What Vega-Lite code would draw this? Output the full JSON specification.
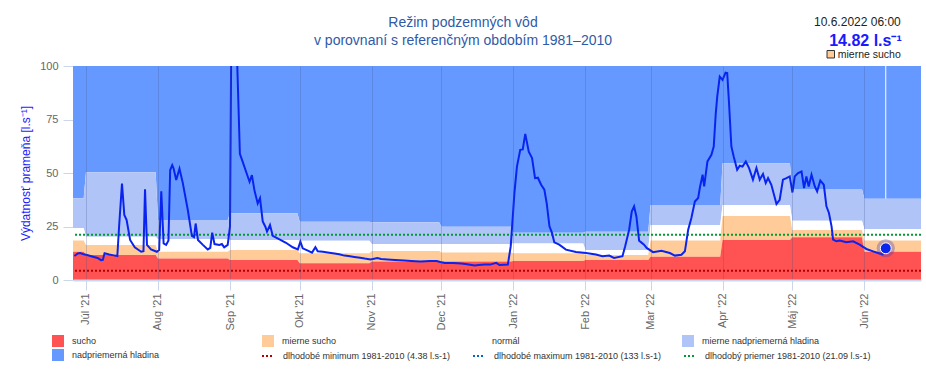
{
  "$schema": "https://vega.github.io/schema/vega-lite/v6.json",
  "width": 848,
  "height": 214,
  "autosize": {"type": "none"},
  "padding": {"left": 73, "top": 66, "right": 5, "bottom": 106},
  "background": "white",
  "config": {"view": {"stroke": null}, "font": "Liberation Sans"},
  "title": {
    "text": ["Režim podzemných vôd", "v porovnaní s referenčným obdobím 1981–2010"],
    "anchor": "middle", "frame": "group", "dx": -34, "dy": 50, "offset": 18,
    "font": "Liberation Sans", "fontSize": 14, "fontWeight": "normal",
    "color": "#2f5aa8", "lineHeight": 18
  },
  "datasets": {
    "bands": [
      {"date": "2021-06-15", "s": 13.2, "m": 18.4, "n": 24.3, "a": 38.2},
      {"date": "2021-06-30", "s": 13.2, "m": 18.4, "n": 24.3, "a": 38.2},
      {"date": "2021-07-01", "s": 11.7, "m": 16.4, "n": 20.2, "a": 50.3},
      {"date": "2021-07-31", "s": 11.7, "m": 16.4, "n": 20.2, "a": 50.3},
      {"date": "2021-08-01", "s": 10.1, "m": 13.2, "n": 19.0, "a": 28.0},
      {"date": "2021-08-31", "s": 10.1, "m": 13.2, "n": 19.0, "a": 28.0},
      {"date": "2021-09-01", "s": 9.3, "m": 14.0, "n": 18.7, "a": 31.2},
      {"date": "2021-09-30", "s": 9.3, "m": 14.0, "n": 18.7, "a": 31.2},
      {"date": "2021-10-01", "s": 7.8, "m": 12.5, "n": 18.3, "a": 27.2},
      {"date": "2021-10-31", "s": 7.8, "m": 12.5, "n": 18.3, "a": 27.2},
      {"date": "2021-11-01", "s": 8.6, "m": 13.6, "n": 16.8, "a": 27.0},
      {"date": "2021-11-30", "s": 8.6, "m": 13.6, "n": 16.8, "a": 27.0},
      {"date": "2021-12-01", "s": 8.6, "m": 12.8, "n": 16.8, "a": 24.9},
      {"date": "2021-12-31", "s": 8.6, "m": 12.8, "n": 16.8, "a": 24.9},
      {"date": "2022-01-01", "s": 8.9, "m": 12.5, "n": 17.1, "a": 22.1},
      {"date": "2022-01-31", "s": 8.9, "m": 12.5, "n": 17.1, "a": 22.1},
      {"date": "2022-02-01", "s": 9.3, "m": 11.7, "n": 14.0, "a": 22.6},
      {"date": "2022-02-28", "s": 9.3, "m": 11.7, "n": 14.0, "a": 22.6},
      {"date": "2022-03-01", "s": 10.9, "m": 18.4, "n": 25.7, "a": 35.0},
      {"date": "2022-03-31", "s": 10.9, "m": 18.4, "n": 25.7, "a": 35.0},
      {"date": "2022-04-01", "s": 18.7, "m": 29.9, "n": 35.0, "a": 54.5},
      {"date": "2022-04-30", "s": 18.7, "m": 29.9, "n": 35.0, "a": 54.5},
      {"date": "2022-05-01", "s": 20.0, "m": 23.4, "n": 27.7, "a": 42.5},
      {"date": "2022-05-31", "s": 20.0, "m": 23.4, "n": 27.7, "a": 42.5},
      {"date": "2022-06-01", "s": 13.2, "m": 18.4, "n": 23.8, "a": 38.0},
      {"date": "2022-06-30", "s": 13.2, "m": 18.4, "n": 23.8, "a": 38.0}
    ],
    "refs": [
      {"name": "dlhodobé minimum 1981-2010 (4.38 l.s-1)", "value": 4.38},
      {"name": "dlhodobé maximum 1981-2010 (133 l.s-1)", "value": 133},
      {"name": "dlhodobý priemer 1981-2010 (21.09 l.s-1)", "value": 21.09}
    ],
    "now": [
      {"date": "2022-06-10T06:00Z", "value": 14.82, "stamp": "10.6.2022 06:00", "label": "14.82 l.s⁻¹", "category": "mierne sucho"}
    ],
    "flow": [
      {"date": "2021-06-26T00:00Z", "value": 11.2},
      {"date": "2021-06-27T12:00Z", "value": 12.4},
      {"date": "2021-06-28T12:00Z", "value": 12.6},
      {"date": "2021-06-30T00:00Z", "value": 12.0},
      {"date": "2021-07-01T12:00Z", "value": 11.7},
      {"date": "2021-07-04T00:00Z", "value": 10.9},
      {"date": "2021-07-06T00:00Z", "value": 10.3},
      {"date": "2021-07-07T12:00Z", "value": 9.3},
      {"date": "2021-07-08T06:00Z", "value": 9.4},
      {"date": "2021-07-09T00:00Z", "value": 12.5},
      {"date": "2021-07-11T00:00Z", "value": 11.9},
      {"date": "2021-07-13T00:00Z", "value": 11.5},
      {"date": "2021-07-14T12:00Z", "value": 11.2},
      {"date": "2021-07-15T06:00Z", "value": 24.9},
      {"date": "2021-07-16T12:00Z", "value": 45.1},
      {"date": "2021-07-17T12:00Z", "value": 30.4},
      {"date": "2021-07-18T12:00Z", "value": 28.0},
      {"date": "2021-07-20T00:00Z", "value": 18.7},
      {"date": "2021-07-22T00:00Z", "value": 15.3},
      {"date": "2021-07-24T18:00Z", "value": 13.2},
      {"date": "2021-07-25T18:00Z", "value": 13.5},
      {"date": "2021-07-26T10:00Z", "value": 42.4},
      {"date": "2021-07-27T06:00Z", "value": 16.4},
      {"date": "2021-07-29T00:00Z", "value": 14.3},
      {"date": "2021-07-31T12:00Z", "value": 13.2},
      {"date": "2021-08-01T12:00Z", "value": 14.0},
      {"date": "2021-08-02T10:00Z", "value": 41.5},
      {"date": "2021-08-03T10:00Z", "value": 17.1},
      {"date": "2021-08-04T12:00Z", "value": 16.4},
      {"date": "2021-08-05T12:00Z", "value": 18.5},
      {"date": "2021-08-06T06:00Z", "value": 51.4},
      {"date": "2021-08-07T03:00Z", "value": 53.7},
      {"date": "2021-08-07T18:00Z", "value": 52.0},
      {"date": "2021-08-08T20:00Z", "value": 46.7},
      {"date": "2021-08-10T06:00Z", "value": 52.0},
      {"date": "2021-08-11T16:00Z", "value": 45.4},
      {"date": "2021-08-13T20:00Z", "value": 32.7},
      {"date": "2021-08-15T14:00Z", "value": 20.6},
      {"date": "2021-08-16T12:00Z", "value": 20.0},
      {"date": "2021-08-17T05:00Z", "value": 26.4},
      {"date": "2021-08-18T05:00Z", "value": 18.7},
      {"date": "2021-08-20T08:00Z", "value": 16.4},
      {"date": "2021-08-22T10:00Z", "value": 14.3},
      {"date": "2021-08-23T12:00Z", "value": 15.0},
      {"date": "2021-08-24T08:00Z", "value": 22.1},
      {"date": "2021-08-25T08:00Z", "value": 16.8},
      {"date": "2021-08-27T10:00Z", "value": 16.4},
      {"date": "2021-08-28T12:00Z", "value": 16.8},
      {"date": "2021-08-29T12:00Z", "value": 15.3},
      {"date": "2021-08-31T00:00Z", "value": 16.4},
      {"date": "2021-09-01T00:00Z", "value": 25},
      {"date": "2021-09-01T14:00Z", "value": 120},
      {"date": "2021-09-03T00:00Z", "value": 140},
      {"date": "2021-09-04T00:00Z", "value": 105},
      {"date": "2021-09-05T06:00Z", "value": 59},
      {"date": "2021-09-06T05:00Z", "value": 56},
      {"date": "2021-09-07T22:00Z", "value": 50.6},
      {"date": "2021-09-09T10:00Z", "value": 45.9},
      {"date": "2021-09-10T10:00Z", "value": 49},
      {"date": "2021-09-11T12:00Z", "value": 42},
      {"date": "2021-09-12T22:00Z", "value": 35.8},
      {"date": "2021-09-13T22:00Z", "value": 38.2},
      {"date": "2021-09-15T02:00Z", "value": 27.3},
      {"date": "2021-09-16T05:00Z", "value": 24.9},
      {"date": "2021-09-16T22:00Z", "value": 22.6},
      {"date": "2021-09-18T05:00Z", "value": 25.7},
      {"date": "2021-09-19T10:00Z", "value": 20.6},
      {"date": "2021-09-22T07:00Z", "value": 19.0},
      {"date": "2021-09-25T02:00Z", "value": 17.4},
      {"date": "2021-09-28T00:00Z", "value": 15.3},
      {"date": "2021-09-30T05:00Z", "value": 14.3},
      {"date": "2021-10-01T07:00Z", "value": 17.9},
      {"date": "2021-10-02T07:00Z", "value": 14.8},
      {"date": "2021-10-04T12:00Z", "value": 13.7},
      {"date": "2021-10-06T07:00Z", "value": 12.8},
      {"date": "2021-10-07T18:00Z", "value": 15.3},
      {"date": "2021-10-08T18:00Z", "value": 13.4},
      {"date": "2021-10-11T00:00Z", "value": 13.2},
      {"date": "2021-10-13T00:00Z", "value": 12.9},
      {"date": "2021-10-16T00:00Z", "value": 12.4},
      {"date": "2021-10-18T00:00Z", "value": 12.0},
      {"date": "2021-10-20T06:00Z", "value": 11.4},
      {"date": "2021-10-22T00:00Z", "value": 11.2},
      {"date": "2021-10-24T12:00Z", "value": 10.8},
      {"date": "2021-10-27T00:00Z", "value": 10.4},
      {"date": "2021-10-29T00:00Z", "value": 10.0},
      {"date": "2021-10-31T12:00Z", "value": 9.6},
      {"date": "2021-11-03T10:00Z", "value": 10.3},
      {"date": "2021-11-05T00:00Z", "value": 9.8},
      {"date": "2021-11-07T18:00Z", "value": 9.6},
      {"date": "2021-11-11T00:00Z", "value": 9.4},
      {"date": "2021-11-15T00:00Z", "value": 9.1},
      {"date": "2021-11-18T00:00Z", "value": 8.9},
      {"date": "2021-11-22T00:00Z", "value": 8.6},
      {"date": "2021-11-26T00:00Z", "value": 8.9},
      {"date": "2021-11-29T00:00Z", "value": 8.9},
      {"date": "2021-11-30T12:00Z", "value": 8.4},
      {"date": "2021-12-02T10:00Z", "value": 8.0},
      {"date": "2021-12-06T00:00Z", "value": 7.9},
      {"date": "2021-12-09T14:00Z", "value": 7.7},
      {"date": "2021-12-12T00:00Z", "value": 7.4},
      {"date": "2021-12-15T08:00Z", "value": 6.8},
      {"date": "2021-12-17T00:00Z", "value": 7.0},
      {"date": "2021-12-19T14:00Z", "value": 7.2},
      {"date": "2021-12-22T00:00Z", "value": 7.2},
      {"date": "2021-12-24T14:00Z", "value": 8.0},
      {"date": "2021-12-26T00:00Z", "value": 7.0},
      {"date": "2021-12-29T14:00Z", "value": 7.2},
      {"date": "2021-12-30T20:00Z", "value": 15.8},
      {"date": "2022-01-01T10:00Z", "value": 40.7},
      {"date": "2022-01-02T12:00Z", "value": 53},
      {"date": "2022-01-03T22:00Z", "value": 60.8},
      {"date": "2022-01-05T00:00Z", "value": 61},
      {"date": "2022-01-06T02:00Z", "value": 68.3},
      {"date": "2022-01-07T14:00Z", "value": 60},
      {"date": "2022-01-09T00:00Z", "value": 57},
      {"date": "2022-01-10T07:00Z", "value": 47.6},
      {"date": "2022-01-11T12:00Z", "value": 47.8},
      {"date": "2022-01-12T22:00Z", "value": 44.5},
      {"date": "2022-01-14T07:00Z", "value": 42.2},
      {"date": "2022-01-15T07:00Z", "value": 36},
      {"date": "2022-01-16T12:00Z", "value": 25.1},
      {"date": "2022-01-17T14:00Z", "value": 22},
      {"date": "2022-01-18T14:00Z", "value": 17.6},
      {"date": "2022-01-20T17:00Z", "value": 16.5},
      {"date": "2022-01-23T14:00Z", "value": 14.2},
      {"date": "2022-01-27T22:00Z", "value": 13.1},
      {"date": "2022-02-01T05:00Z", "value": 12.6},
      {"date": "2022-02-05T12:00Z", "value": 11.9},
      {"date": "2022-02-08T07:00Z", "value": 11.1},
      {"date": "2022-02-11T05:00Z", "value": 11.4},
      {"date": "2022-02-13T07:00Z", "value": 10.3},
      {"date": "2022-02-16T22:00Z", "value": 11.1},
      {"date": "2022-02-18T02:00Z", "value": 15.8},
      {"date": "2022-02-19T19:00Z", "value": 23.5},
      {"date": "2022-02-20T22:00Z", "value": 32},
      {"date": "2022-02-21T22:00Z", "value": 34.4},
      {"date": "2022-02-22T22:00Z", "value": 29.7},
      {"date": "2022-02-24T02:00Z", "value": 18.4},
      {"date": "2022-02-26T05:00Z", "value": 16.5},
      {"date": "2022-02-27T08:00Z", "value": 15},
      {"date": "2022-03-02T02:00Z", "value": 13},
      {"date": "2022-03-05T17:00Z", "value": 13.7},
      {"date": "2022-03-09T07:00Z", "value": 12.6},
      {"date": "2022-03-11T12:00Z", "value": 11.4},
      {"date": "2022-03-14T07:00Z", "value": 11.8},
      {"date": "2022-03-15T19:00Z", "value": 13.4},
      {"date": "2022-03-17T05:00Z", "value": 23.5},
      {"date": "2022-03-18T14:00Z", "value": 29},
      {"date": "2022-03-20T02:00Z", "value": 36.7},
      {"date": "2022-03-21T12:00Z", "value": 38.3},
      {"date": "2022-03-22T05:00Z", "value": 43},
      {"date": "2022-03-23T10:00Z", "value": 49.2},
      {"date": "2022-03-24T02:00Z", "value": 43.7},
      {"date": "2022-03-25T12:00Z", "value": 55.4},
      {"date": "2022-03-27T05:00Z", "value": 58.5},
      {"date": "2022-03-28T05:00Z", "value": 62.4},
      {"date": "2022-03-29T02:00Z", "value": 77.9},
      {"date": "2022-03-29T17:00Z", "value": 85.7},
      {"date": "2022-03-30T19:00Z", "value": 95},
      {"date": "2022-04-01T00:00Z", "value": 93.5},
      {"date": "2022-04-02T07:00Z", "value": 96.9},
      {"date": "2022-04-03T00:00Z", "value": 96.7},
      {"date": "2022-04-03T19:00Z", "value": 82.6},
      {"date": "2022-04-04T19:00Z", "value": 62.4},
      {"date": "2022-04-05T19:00Z", "value": 57.7},
      {"date": "2022-04-07T07:00Z", "value": 51.5},
      {"date": "2022-04-08T10:00Z", "value": 53.4},
      {"date": "2022-04-09T14:00Z", "value": 53},
      {"date": "2022-04-11T00:00Z", "value": 55.4},
      {"date": "2022-04-12T10:00Z", "value": 52.3},
      {"date": "2022-04-14T02:00Z", "value": 46.9},
      {"date": "2022-04-15T14:00Z", "value": 52.3},
      {"date": "2022-04-17T00:00Z", "value": 46.9},
      {"date": "2022-04-18T10:00Z", "value": 49.5},
      {"date": "2022-04-19T14:00Z", "value": 45.3},
      {"date": "2022-04-20T14:00Z", "value": 47.6},
      {"date": "2022-04-22T00:00Z", "value": 44.5},
      {"date": "2022-04-24T05:00Z", "value": 35.5},
      {"date": "2022-04-25T14:00Z", "value": 37.5},
      {"date": "2022-04-27T00:00Z", "value": 46.9},
      {"date": "2022-04-28T12:00Z", "value": 47.6},
      {"date": "2022-04-29T22:00Z", "value": 48.4},
      {"date": "2022-05-01T02:00Z", "value": 40.9},
      {"date": "2022-05-02T02:00Z", "value": 48.4},
      {"date": "2022-05-03T12:00Z", "value": 50},
      {"date": "2022-05-05T00:00Z", "value": 50.7},
      {"date": "2022-05-06T02:00Z", "value": 43},
      {"date": "2022-05-07T02:00Z", "value": 48.4},
      {"date": "2022-05-08T02:00Z", "value": 43.7},
      {"date": "2022-05-09T07:00Z", "value": 49.2},
      {"date": "2022-05-10T17:00Z", "value": 43.7},
      {"date": "2022-05-11T17:00Z", "value": 41.4},
      {"date": "2022-05-13T02:00Z", "value": 46.5},
      {"date": "2022-05-14T14:00Z", "value": 44.5},
      {"date": "2022-05-15T17:00Z", "value": 34.4},
      {"date": "2022-05-16T19:00Z", "value": 31.3},
      {"date": "2022-05-17T22:00Z", "value": 25.1},
      {"date": "2022-05-18T14:00Z", "value": 18.9},
      {"date": "2022-05-20T00:00Z", "value": 18.1},
      {"date": "2022-05-21T10:00Z", "value": 18.4},
      {"date": "2022-05-24T07:00Z", "value": 17.6},
      {"date": "2022-05-27T05:00Z", "value": 18.1},
      {"date": "2022-05-30T00:00Z", "value": 16.5},
      {"date": "2022-06-01T22:00Z", "value": 14.5},
      {"date": "2022-06-04T19:00Z", "value": 13.4},
      {"date": "2022-06-07T14:00Z", "value": 12.4},
      {"date": "2022-06-09T07:00Z", "value": 11.8}
    ]
  },
  "layer": [
    {
      "data": {"name": "bands"},
      "mark": {"type": "area", "clip": true, "opacity": 1},
      "encoding": {
        "x": {
          "field": "date", "type": "temporal",
          "scale": {"type": "utc", "domain": [{"year": 2021, "month": 6, "date": 25, "hours": 10, "utc": true}, {"year": 2022, "month": 6, "date": 25, "hours": 10, "utc": true}]},
          "axis": {
            "title": null,
            "tickCount": {"interval": "month", "step": 1},
            "labelExpr": "['Jan','Feb','Mar','Apr','Máj','Jún','Júl','Aug','Sep','Okt','Nov','Dec'][utcmonth(datum.value)] + \" '\" + utcFormat(datum.value, '%y')",
            "labelAngle": 270, "labelAlign": "right", "labelBaseline": "middle",
            "labelFontSize": 11, "labelColor": "#666666", "labelPadding": 3,
            "labelFlush": false, "labelOverlap": false,
            "tickSize": 10, "tickColor": "#ccd6eb",
            "domainColor": "#ccd6eb", "domainWidth": 2,
            "grid": true, "gridColor": "#3c508c", "gridOpacity": 0.25,
            "zindex": 1
          }
        },
        "y": {
          "field": "a", "type": "quantitative",
          "scale": {"domain": [0, 100], "nice": false},
          "axis": {
            "title": "Výdatnosť prameňa [l.s⁻¹]",
            "titleColor": "#1a1aff", "titleFontSize": 12, "titleFontWeight": "normal", "titlePadding": 7,
            "values": [0, 25, 50, 75, 100],
            "labelFontSize": 11, "labelColor": "#666666", "labelPadding": 5,
            "tickSize": 10, "tickColor": "#ccd6eb", "domain": false, "grid": false
          }
        },
        "y2": {"datum": 100},
        "color": {
          "datum": "nadpriemerná hladina",
          "scale": {
            "domain": ["sucho", "mierne sucho", "normál", "mierne nadpriemerná hladina", "nadpriemerná hladina"],
            "range": ["#ff5252", "#ffcc99", "#ffffff", "#b0c4f8", "#6699ff"]
          },
          "legend": {
            "title": null, "orient": "none", "legendX": -21, "legendY": 269,
            "columns": 4, "direction": "horizontal", "gridAlign": "all",
            "columnPadding": 72, "rowPadding": 2, "padding": 0,
            "symbolType": "square", "symbolSize": 144, "symbolStrokeWidth": 0, "symbolOpacity": 1,
            "labelFont": "Liberation Sans", "labelFontSize": 9, "labelColor": "#333333",
            "labelOffset": 8, "labelLimit": 300
          }
        }
      }
    },
    {
      "data": {"name": "bands"},
      "mark": {"type": "area", "clip": true, "opacity": 1},
      "encoding": {
        "x": {"field": "date", "type": "temporal"},
        "y": {"field": "n", "type": "quantitative"},
        "y2": {"field": "a"},
        "color": {"datum": "mierne nadpriemerná hladina"}
      }
    },
    {
      "data": {"name": "bands"},
      "mark": {"type": "area", "clip": true, "opacity": 1},
      "encoding": {
        "x": {"field": "date", "type": "temporal"},
        "y": {"field": "m", "type": "quantitative"},
        "y2": {"field": "n"},
        "color": {"datum": "normál"}
      }
    },
    {
      "data": {"name": "bands"},
      "mark": {"type": "area", "clip": true, "opacity": 1},
      "encoding": {
        "x": {"field": "date", "type": "temporal"},
        "y": {"field": "s", "type": "quantitative"},
        "y2": {"field": "m"},
        "color": {"datum": "mierne sucho"}
      }
    },
    {
      "data": {"name": "bands"},
      "mark": {"type": "area", "clip": true, "opacity": 1},
      "encoding": {
        "x": {"field": "date", "type": "temporal"},
        "y": {"field": "s", "type": "quantitative"},
        "y2": {"datum": 0},
        "color": {"datum": "sucho"}
      }
    },
    {
      "data": {"name": "now"},
      "mark": {"type": "rule", "color": "white", "strokeWidth": 1, "clip": true},
      "encoding": {
        "x": {"field": "date", "type": "temporal"},
        "y": {"datum": 38},
        "y2": {"datum": 100}
      }
    },
    {
      "data": {"name": "refs"},
      "mark": {"type": "rule", "strokeDash": [2, 2], "strokeWidth": 2, "clip": true},
      "encoding": {
        "y": {"field": "value", "type": "quantitative"},
        "stroke": {
          "field": "name", "type": "nominal",
          "scale": {
            "domain": ["dlhodobé minimum 1981-2010 (4.38 l.s-1)", "dlhodobé maximum 1981-2010 (133 l.s-1)", "dlhodobý priemer 1981-2010 (21.09 l.s-1)"],
            "range": ["#b30000", "#0066cc", "#009933"]
          },
          "legend": {
            "title": null, "orient": "none", "legendX": 188, "legendY": 283,
            "columns": 3, "direction": "horizontal", "gridAlign": "all",
            "columnPadding": 18, "rowPadding": 2, "padding": 0,
            "symbolType": "stroke", "symbolSize": 144, "symbolStrokeWidth": 2, "symbolDash": [2, 2],
            "labelFont": "Liberation Sans", "labelFontSize": 9, "labelColor": "#333333",
            "labelOffset": 8, "labelLimit": 300
          }
        }
      }
    },
    {
      "data": {"name": "flow"},
      "mark": {"type": "line", "color": "#0a24f0", "strokeWidth": 2, "clip": true},
      "encoding": {
        "x": {"field": "date", "type": "temporal"},
        "y": {"field": "value", "type": "quantitative"}
      }
    },
    {
      "data": {"name": "now"},
      "mark": {"type": "point", "filled": true, "color": "#4a3fb0", "opacity": 0.35, "size": 330},
      "encoding": {
        "x": {"field": "date", "type": "temporal"},
        "y": {"field": "value", "type": "quantitative"}
      }
    },
    {
      "data": {"name": "now"},
      "mark": {"type": "point", "filled": true, "color": "#0a24f0", "stroke": "white", "strokeWidth": 1, "opacity": 1, "size": 120},
      "encoding": {
        "x": {"field": "date", "type": "temporal"},
        "y": {"field": "value", "type": "quantitative"}
      }
    },
    {
      "data": {"name": "now"},
      "mark": {"type": "text", "align": "right", "baseline": "middle", "dx": 15, "fontSize": 12, "color": "#222222"},
      "encoding": {
        "x": {"field": "date", "type": "temporal"},
        "y": {"datum": 120.4},
        "text": {"field": "stamp"}
      }
    },
    {
      "data": {"name": "now"},
      "mark": {"type": "text", "align": "right", "baseline": "middle", "dx": 16, "fontSize": 16, "fontWeight": "bold", "color": "#1a1aff"},
      "encoding": {
        "x": {"field": "date", "type": "temporal"},
        "y": {"datum": 111.8},
        "text": {"field": "label"}
      }
    },
    {
      "data": {"name": "now"},
      "mark": {"type": "text", "align": "right", "baseline": "middle", "dx": 15, "fontSize": 10.5, "color": "#222222"},
      "encoding": {
        "x": {"field": "date", "type": "temporal"},
        "y": {"datum": 105.3},
        "text": {"field": "category"}
      }
    },
    {
      "data": {"name": "now"},
      "mark": {"type": "point", "shape": "square", "filled": true, "fill": "#ffcc99", "stroke": "#333333", "strokeWidth": 1, "size": 56, "opacity": 1},
      "encoding": {
        "x": {"field": "date", "type": "temporal"},
        "xOffset": {"value": -55},
        "y": {"datum": 105.5}
      }
    }
  ]
}
